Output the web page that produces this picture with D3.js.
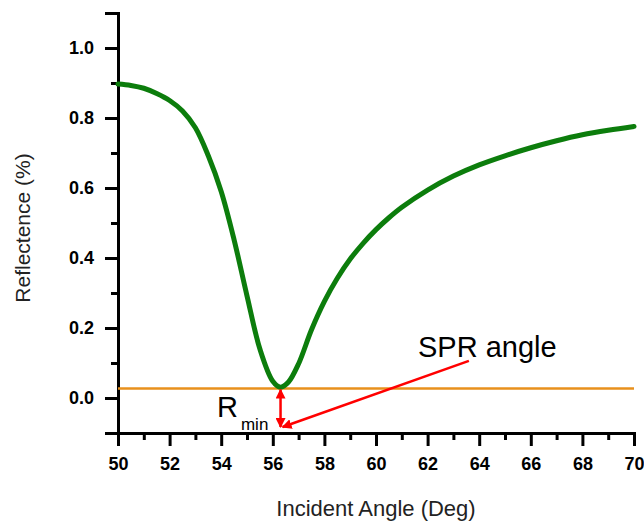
<!DOCTYPE html>
<html><head><meta charset="utf-8">
<script src="https://cdn.jsdelivr.net/npm/d3@7"></script>
<style>body{margin:0;background:#fff}svg{display:block}</style>
</head><body>
<script>
// Data
const angles = [50, 50.5, 51, 51.5, 52, 52.5, 53, 53.5, 54, 54.5, 55, 55.5, 56, 56.3, 56.6, 57, 57.5, 58, 58.5, 59, 59.5, 60, 60.5, 61, 62, 63, 64, 65, 66, 67, 68, 69, 70];
const reflectance = [0.897, 0.893, 0.885, 0.870, 0.850, 0.820, 0.772, 0.692, 0.590, 0.452, 0.292, 0.140, 0.048, 0.031, 0.045, 0.098, 0.195, 0.276, 0.342, 0.397, 0.442, 0.481, 0.515, 0.545, 0.594, 0.634, 0.666, 0.692, 0.715, 0.735, 0.752, 0.765, 0.776];
const rMinLevel = 0.027;
const xTicks = [50, 52, 54, 56, 58, 60, 62, 64, 66, 68, 70];
const yTicks = [0.0, 0.2, 0.4, 0.6, 0.8, 1.0];
const sprAngle = 56.3;
const arrowBottom = -0.083;
const labelPoint = [63.6, 0.106];

const W = 644, H = 523;
const m = {left: 118, right: 10, top: 13, bottom: 90};
const svg = d3.select("body").append("svg").attr("width", W).attr("height", H)
  .style("font-family", "Arial, 'Liberation Sans', sans-serif");

const x = d3.scaleLinear().domain([50, 70]).range([m.left, W - m.right]);
const y = d3.scaleLinear().domain([-0.1, 1.1]).range([H - m.bottom, m.top]);

const defs = svg.append("defs");
defs.append("marker").attr("id", "ah").attr("viewBox", "0 0 10 10").attr("refX", 9).attr("refY", 5)
  .attr("markerWidth", 4).attr("markerHeight", 4).attr("orient", "auto-start-reverse")
  .append("path").attr("d", "M0,0 L10,5 L0,10 z").attr("fill", "#f00");

// x axis
const gx = svg.append("g").attr("transform", `translate(0,${H - m.bottom})`);
gx.call(d3.axisBottom(x).tickValues(d3.range(51, 70, 2)).tickSize(7).tickFormat(""));
gx.call(g => g.append("g").call(d3.axisBottom(x).tickValues(xTicks).tickSize(13).tickPadding(11).tickFormat(d3.format("d"))));
// y axis
const gy = svg.append("g").attr("transform", `translate(${m.left},0)`);
gy.call(d3.axisLeft(y).tickValues([-0.1, 0.1, 0.3, 0.5, 0.7, 0.9, 1.1]).tickSize(7).tickFormat(""));
gy.call(g => g.append("g").call(d3.axisLeft(y).tickValues(yTicks).tickSize(13).tickPadding(11).tickFormat(d3.format(".1f"))));

svg.selectAll(".domain").attr("stroke", "#000").attr("stroke-width", 3);
svg.selectAll(".tick line").attr("stroke", "#000").attr("stroke-width", 3);
svg.selectAll(".tick text").attr("font-size", 18).attr("font-weight", "bold").attr("fill", "#000")
  .attr("font-family", "Arial, 'Liberation Sans', sans-serif");

// orange Rmin line
svg.append("line").attr("x1", x(50)).attr("x2", x(70)).attr("y1", y(rMinLevel)).attr("y2", y(rMinLevel))
  .attr("stroke", "#e8901c").attr("stroke-width", 2.5);

// curve
const line = d3.line().x((d, i) => x(angles[i])).y(d => y(d)).curve(d3.curveCatmullRom.alpha(0.5));
svg.append("path").datum(reflectance).attr("d", line).attr("fill", "none")
  .attr("stroke", "#0c7d0c").attr("stroke-width", 5).attr("stroke-linecap", "round");

// red annotations
svg.append("line").attr("x1", x(sprAngle)).attr("x2", x(sprAngle))
  .attr("y1", y(arrowBottom)).attr("y2", y(rMinLevel) + 1)
  .attr("stroke", "#f00").attr("stroke-width", 2.5)
  .attr("marker-start", "url(#ah)").attr("marker-end", "url(#ah)");
svg.append("line").attr("x1", x(labelPoint[0])).attr("y1", y(labelPoint[1]))
  .attr("x2", x(sprAngle) + 2).attr("y2", y(arrowBottom))
  .attr("stroke", "#f00").attr("stroke-width", 2.5).attr("marker-end", "url(#ah)");

svg.append("text").attr("x", 418).attr("y", 357).attr("font-size", 29).attr("fill", "#000").text("SPR angle");
const rt = svg.append("text").attr("x", 217).attr("y", 417).attr("font-size", 29).attr("fill", "#000");
rt.append("tspan").text("R");
rt.append("tspan").attr("font-size", 17).attr("dx", 3).attr("dy", 13).text("min");

// axis titles
svg.append("text").attr("x", (m.left + W - m.right) / 2).attr("y", 516).attr("text-anchor", "middle")
  .attr("font-size", 22).attr("fill", "#222").text("Incident Angle (Deg)");
svg.append("text").attr("transform", `translate(30,228) rotate(-90)`).attr("text-anchor", "middle")
  .attr("font-size", 21).attr("fill", "#222").text("Reflectence (%)");
</script>
</body></html>
